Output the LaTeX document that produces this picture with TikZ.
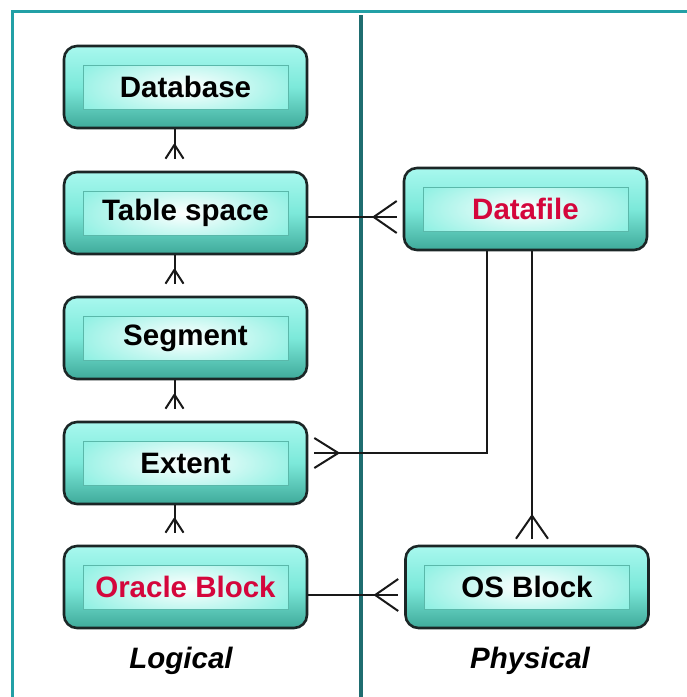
\documentclass[tikz,border=0pt]{standalone}
\usepackage{fontspec}
\setmainfont{Liberation Sans}
\usetikzlibrary{calc}

\definecolor{frameteal}{HTML}{22A0A6}
\definecolor{divteal}{HTML}{1F6D70}
\definecolor{boxtop}{HTML}{A8F8EE}
\definecolor{boxmid}{HTML}{7CE9DA}
\definecolor{boxbot}{HTML}{3FAA9A}
\definecolor{glowin}{HTML}{FFFFFF}
\definecolor{glowout}{HTML}{8CF0E2}
\definecolor{innerline}{HTML}{5AB8AA}
\definecolor{boxedge}{HTML}{1B2626}
\definecolor{hotred}{HTML}{D4063C}

\tikzset{
  entity/.style={
    draw=boxedge, line width=2.6pt, rounded corners=13pt,
    minimum width=243pt, minimum height=82pt, inner sep=0pt,
    top color=boxtop, bottom color=boxbot, middle color=boxmid,
    font=\fontsize{29.5}{34}\selectfont\bfseries,
    path picture={
      \shade[sharp corners, inner color=glowin, outer color=glowout]
        ([xshift=19pt,yshift=-19pt]path picture bounding box.north west)
        rectangle ([xshift=-19pt,yshift=19pt]path picture bounding box.south east);
      \draw[sharp corners, innerline, line width=0.8pt]
        ([xshift=19pt,yshift=-19pt]path picture bounding box.north west)
        rectangle ([xshift=-19pt,yshift=19pt]path picture bounding box.south east);
    }
  },
  conn/.style={draw=black!90, line width=2pt},
  sidelabel/.style={font=\fontsize{29.5}{34}\selectfont\bfseries\itshape}
}

% crow's foot: apex on the line, three prongs ending at the tip
\newcommand\crowfoot[3]{%
  \draw[conn] (#1) -- ($(#2)!#3!90:(#1)$)
              (#1) -- ($(#2)!#3!-90:(#1)$);}

\begin{document}
\begin{tikzpicture}[x=1pt,y=-1pt]
\useasboundingbox (0,0) rectangle (687,697);
\fill[white] (0,0) rectangle (687,697);

% outer frame and divider
\draw[frameteal, line width=3pt] (12,697) -- (12,11) -- (687,11);
\draw[divteal, line width=4pt] (361,15) -- (361,697);

% logical side
\node[entity] (db) at (185.5,87)  {Database};
\node[entity] (ts) at (185.5,213) {Table space};
\node[entity] (sg) at (185.5,338) {Segment};
\node[entity] (ex) at (185.5,463) {Extent};
\node[entity, text=hotred] (ob) at (185.5,587) {Oracle Block};

% physical side
\node[entity, text=hotred] (df) at (525.5,209) {Datafile};
\node[entity] (os) at (527,587) {OS Block};

\node[sidelabel] (lg) at (181,661) {Logical};
\node[sidelabel] (ph) at (530,661) {Physical};

% vertical links on the logical side
\foreach \u/\l in {db/ts, ts/sg, sg/ex, ex/ob}{
  \coordinate (tip) at ($(\l.north)+(-11,-12)$);
  \coordinate (apx) at ($(\l.north)+(-11,-26)$);
  \draw[conn] ($(\u.south)+(-11,0)$) -- (tip);
  \crowfoot{apx}{tip}{9pt}
}

% table space -- datafile
\coordinate (t2) at ($(ts.east -| df.west)+(-6,4)$);
\coordinate (a2) at ($(t2)+(-23,0)$);
\draw[conn] ($(ts.east)+(0,4)$) -- (t2);
\crowfoot{a2}{t2}{16pt}

% datafile -- extent
\coordinate (t3) at ($(ex.east)+(6,-10)$);
\coordinate (a3) at ($(t3)+(24,0)$);
\draw[conn] ($(df.south)+(-38.5,0)$) |- (t3);
\crowfoot{a3}{t3}{15pt}

% datafile -- OS block
\coordinate (t4) at ($(os.north)+(5,-6)$);
\coordinate (a4) at ($(t4)+(0,-23)$);
\draw[conn] (t4 |- df.south) -- (t4);
\crowfoot{a4}{t4}{16pt}

% oracle block -- OS block
\coordinate (t5) at ($(ob.east -| os.west)+(-6,8)$);
\coordinate (a5) at ($(t5)+(-23,0)$);
\draw[conn] ($(ob.east)+(0,8)$) -- (t5);
\crowfoot{a5}{t5}{16pt}
\end{tikzpicture}
\end{document}
